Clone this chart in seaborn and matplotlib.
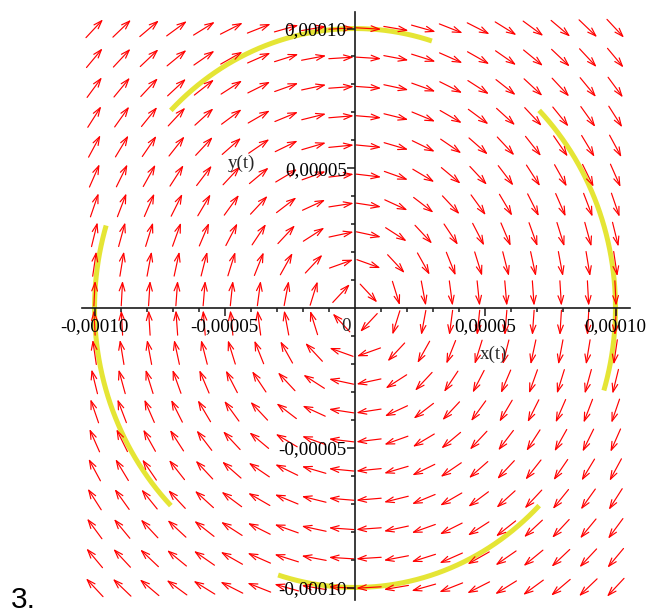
import numpy as np
import pandas as pd
import matplotlib
matplotlib.use("Agg")
import matplotlib.pyplot as plt
from matplotlib.ticker import FixedLocator, FixedFormatter
import seaborn as sns

# System: dx/dt = y, dy/dt = -x  (clockwise rotation)
grid_min, grid_max, grid_n = -1e-4, 1e-4, 20

# Initial conditions of the four solution curves and integration span
x0 = [-7.07e-5, 7.07e-5, -7.07e-5, 7.07e-5]
y0 = [7.07e-5, 7.07e-5, -7.07e-5, -7.07e-5]
t_end = 1.085

# Axis ticks
major_ticks = [-1e-4, -5e-5, 5e-5, 1e-4]
major_labels = ["-0,00010", "-0,00005", "0,00005", "0,00010"]
minor_ticks = [-9e-5, -8e-5, -7e-5, -6e-5, -4e-5, -3e-5, -2e-5, -1e-5,
               1e-5, 2e-5, 3e-5, 4e-5, 6e-5, 7e-5, 8e-5, 9e-5]

sns.set_theme(style="white")
plt.rcParams["font.family"] = ["Liberation Serif", "DejaVu Serif"]
plt.rcParams["axes.unicode_minus"] = False

W, H, DPI = 651, 609, 100
fig = plt.figure(figsize=(W / DPI, H / DPI), dpi=DPI)
ax = fig.add_axes([0, 0, 1, 1])
ax.set_facecolor("white")

# view window: origin at (355, 308) px, 260.5 px / 1e-4 horizontally, 279.5 px / 1e-4 vertically
sx = 260.5 / 1e-4
sy = 279.5 / 1e-4
ax.set_xlim(-355 / sx, (W - 355) / sx)
ax.set_ylim(-(H - 308) / sy, 308 / sy)

# ---- solution curves (exact solution of the linear system) ----
t = np.linspace(0, t_end, 200)
rows = []
for k, (a, b) in enumerate(zip(x0, y0)):
    xs = a * np.cos(t) + b * np.sin(t)
    ys = b * np.cos(t) - a * np.sin(t)
    rows.append(pd.DataFrame({"x": xs, "y": ys, "curve": k}))
traj = pd.concat(rows, ignore_index=True)
sns.lineplot(data=traj, x="x", y="y", units="curve", estimator=None, sort=False,
             color="#e5e535", lw=3.6, ax=ax, legend=False, zorder=2,
             solid_capstyle="butt")

# ---- direction field: arrows of constant screen length ----
g = np.linspace(grid_min, grid_max, grid_n)
arrow_px = 25.0
for gx in g:
    for gy in g:
        vx, vy = gy, -gx
        px, py = vx * sx, vy * sy
        n = np.hypot(px, py)
        if n == 0:
            continue
        dx = px / n * arrow_px / sx
        dy = py / n * arrow_px / sy
        ax.annotate("", xy=(gx + dx / 2, gy + dy / 2), xytext=(gx - dx / 2, gy - dy / 2),
                    arrowprops=dict(arrowstyle="->,head_length=0.5,head_width=0.17",
                                    color="#ff0000", lw=0.85, shrinkA=0, shrinkB=0),
                    zorder=3, annotation_clip=False)

# ---- axes through the origin ----
for side in ["top", "right"]:
    ax.spines[side].set_visible(False)
ax.spines["left"].set_position(("data", 0))
ax.spines["bottom"].set_position(("data", 0))
ax.spines["bottom"].set_bounds(-1.048e-4, 1.056e-4)
ax.spines["left"].set_bounds(-1.045e-4, 1.059e-4)
for side in ["left", "bottom"]:
    ax.spines[side].set_color("#1a1a1a")
    ax.spines[side].set_linewidth(1.2)
    ax.spines[side].set_zorder(4)

ax.xaxis.set_major_locator(FixedLocator(major_ticks))
ax.xaxis.set_major_formatter(FixedFormatter(major_labels))
ax.xaxis.set_minor_locator(FixedLocator(minor_ticks))
ax.yaxis.set_major_locator(FixedLocator(major_ticks))
ax.yaxis.set_major_formatter(FixedFormatter(major_labels))
ax.yaxis.set_minor_locator(FixedLocator(minor_ticks))
ax.tick_params(which="major", direction="out", length=6, width=1.1, color="#1a1a1a",
               labelsize=13.7, pad=1, labelcolor="black")
ax.tick_params(which="minor", direction="out", length=3, width=1.1, color="#1a1a1a")
ax.tick_params(axis="x", which="both", bottom=True, top=False)
ax.tick_params(axis="y", which="both", left=True, right=False, pad=0)
ax.xaxis.set_zorder(5)
ax.yaxis.set_zorder(5)
ax.grid(False)

ax.set_xlabel("")
ax.set_ylabel("")
ax.text(0.5336e-4, -0.1646e-4, "x(t)", fontsize=13.7, ha="center", va="center", zorder=5)
ax.text(-0.4376e-4, 0.5188e-4, "y(t)", fontsize=13.7, ha="center", va="center", zorder=5)
ax.annotate("0", xy=(0, 0), xytext=(-3, -7.5), textcoords="offset points",
            fontsize=13.7, ha="right", va="top", zorder=5)

fig.text(11 / W, 1.0 / H, "3.", fontsize=21.5, family="Liberation Sans",
         ha="left", va="baseline", color="black")

fig.savefig("out.png", dpi=DPI)
